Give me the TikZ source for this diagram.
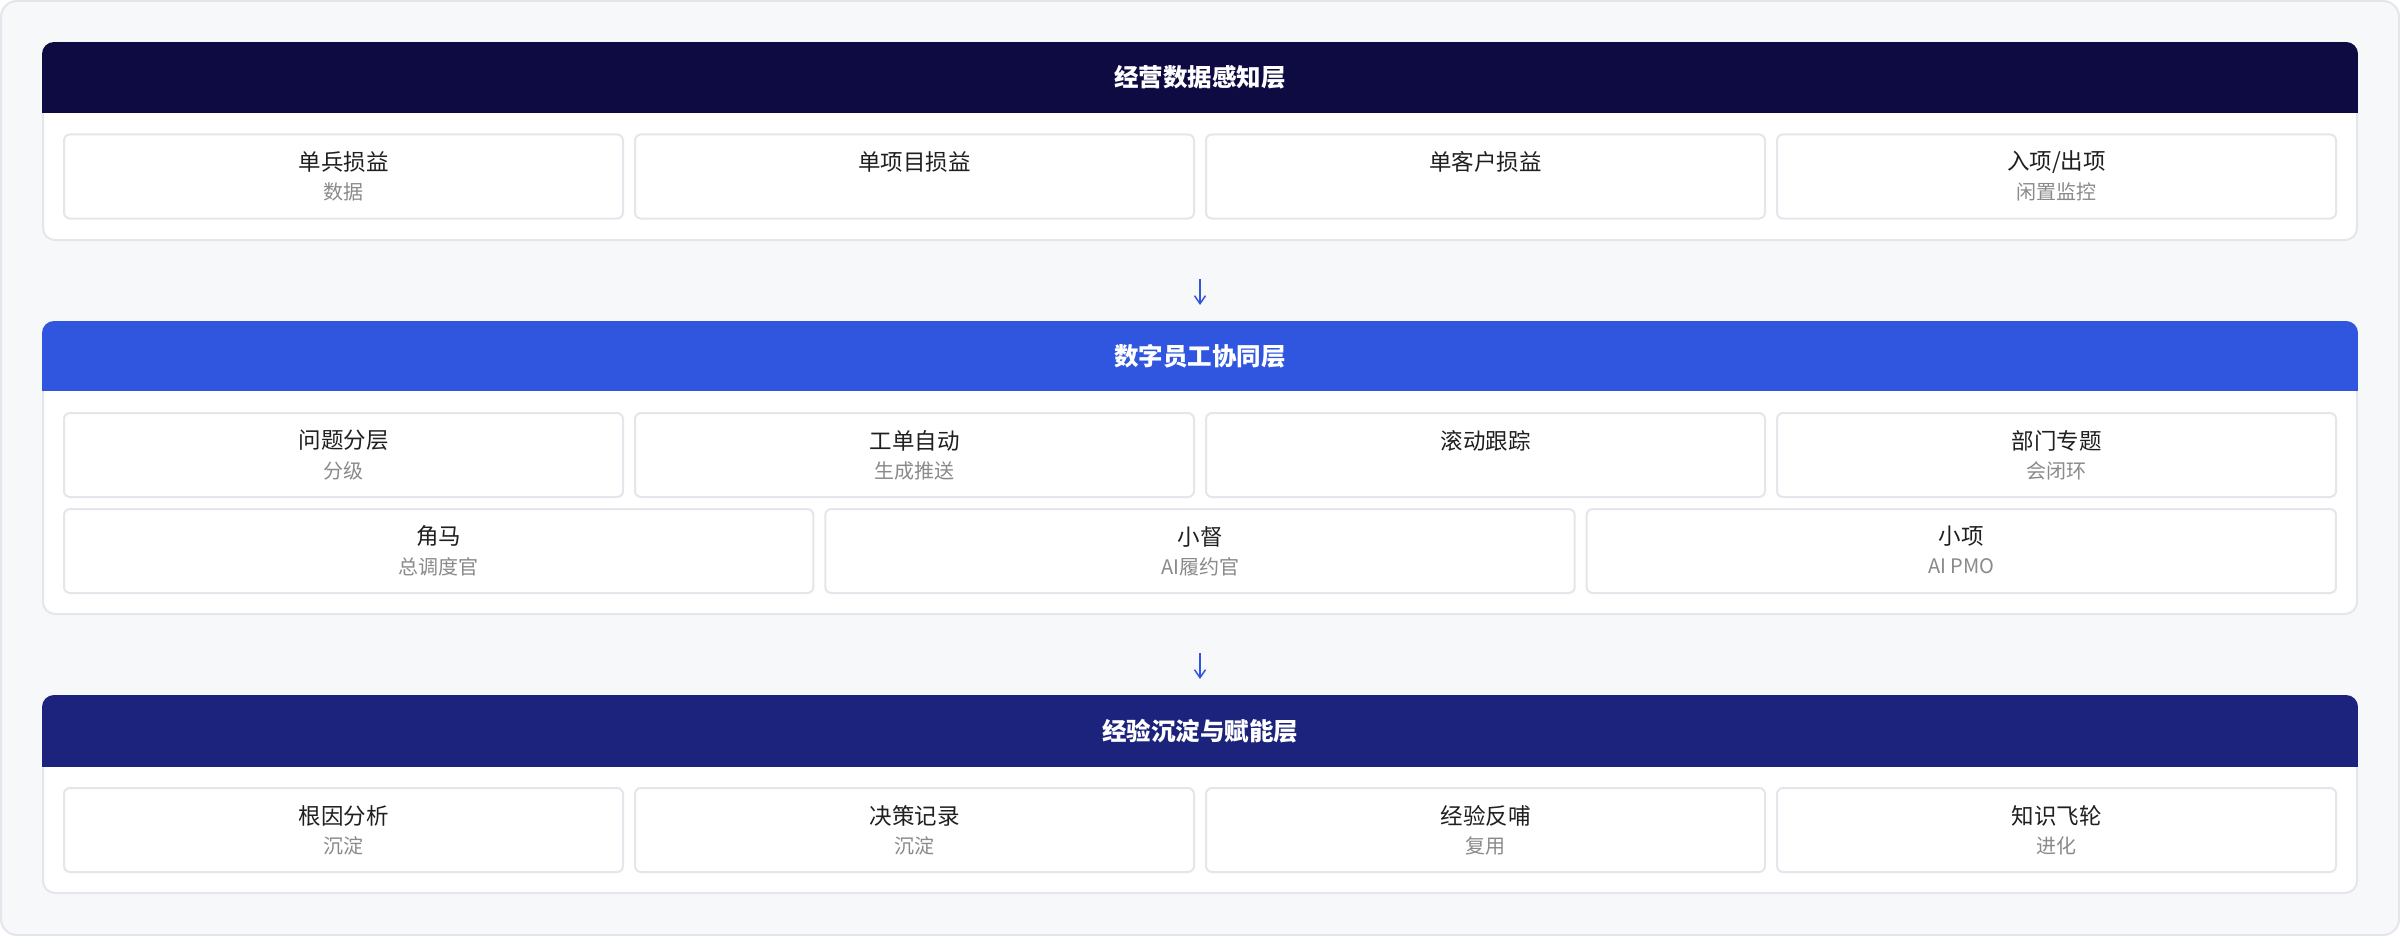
\documentclass[tikz,border=0pt]{standalone}
\usepackage{fontspec}
\setmainfont{Noto Sans CJK SC}
\usetikzlibrary{arrows.meta}

\definecolor{pagebg}{HTML}{F7F8FA}
\definecolor{edge}{HTML}{E5E6EB}
\definecolor{hdA}{HTML}{0E0B43}
\definecolor{hdB}{HTML}{3056E0}
\definecolor{hdC}{HTML}{1B237C}
\definecolor{ink}{HTML}{1F1F1F}
\definecolor{mute}{HTML}{8A8A8A}

\tikzset{
  layer/.style={draw=edge, line width=2pt, fill=white, rounded corners=12pt, minimum width=2314pt, inner sep=0pt},
  card/.style={draw=edge, line width=2pt, fill=white, rounded corners=6pt, minimum height=84pt, inner sep=0pt},
  ttl/.style={text=ink, font=\fontsize{22.5}{26}\selectfont, inner sep=0pt},
  sub/.style={text=mute, font=\fontsize{20}{24}\selectfont, inner sep=0pt},
  hdtxt/.style={text=white, font=\fontsize{24.5}{28}\selectfont\bfseries, inner sep=0pt},
  flow/.style={draw=hdB, line width=1.5pt, -{Straight Barb[length=8pt,width=11pt]}, shorten <=38pt, shorten >=16pt}
}

\begin{document}
\begin{tikzpicture}[x=1pt, y=-1pt]
            \useasboundingbox (0,0) rectangle (2400,936);
            \draw[fill=pagebg, draw=edge, line width=2pt, rounded corners=16pt] (1,1) rectangle (2399,935);

            % layers
            \node[layer, minimum height=197pt] (lay1) at (1200,141.5) {};
            \node[layer, minimum height=292pt] (lay2) at (1200,468) {};
            \node[layer, minimum height=197pt] (lay3) at (1200,794.5) {};

            \begin{scope}
              \clip[rounded corners=12pt] (lay1.north west) rectangle (lay1.south east);
              \fill[hdA] (lay1.north west) rectangle ([yshift=-71pt]lay1.north east);
            \end{scope}
            \begin{scope}
              \clip[rounded corners=12pt] (lay2.north west) rectangle (lay2.south east);
              \fill[hdB] (lay2.north west) rectangle ([yshift=-70pt]lay2.north east);
            \end{scope}
            \begin{scope}
              \clip[rounded corners=12pt] (lay3.north west) rectangle (lay3.south east);
              \fill[hdC] (lay3.north west) rectangle ([yshift=-72pt]lay3.north east);
            \end{scope}
            \node[hdtxt] (hd1) at ([yshift=-35.5pt]lay1.north) {经营数据感知层};
            \node[hdtxt] (hd2) at ([yshift=-35pt]lay2.north) {数字员工协同层};
            \node[hdtxt] (hd3) at ([yshift=-36pt]lay3.north) {经验沉淀与赋能层};

            % layer 1
            \node[card, minimum width=559pt] (a1) at (343.5,176.5) {};
            \node[card, minimum width=559pt] (a2) at (914.5,176.5) {};
            \node[card, minimum width=559pt] (a3) at (1485.5,176.5) {};
            \node[card, minimum width=559pt] (a4) at (2056.5,176.5) {};
            \node[ttl] (a1t) at ([yshift=-28.5pt]a1.north) {单兵损益};
            \node[sub] (a1s) at ([yshift=-58.5pt]a1.north) {数据};
            \node[ttl] (a2t) at ([yshift=-28.5pt]a2.north) {单项目损益};
            \node[ttl] (a3t) at ([yshift=-28.5pt]a3.north) {单客户损益};
            \node[ttl] (a4t) at ([yshift=-28.5pt]a4.north) {入项/出项};
            \node[sub] (a4s) at ([yshift=-58.5pt]a4.north) {闲置监控};

            % layer 2
            \node[card, minimum width=559pt] (b1) at (343.5,455) {};
            \node[card, minimum width=559pt] (b2) at (914.5,455) {};
            \node[card, minimum width=559pt] (b3) at (1485.5,455) {};
            \node[card, minimum width=559pt] (b4) at (2056.5,455) {};
            \node[ttl] (b1t) at ([yshift=-28.5pt]b1.north) {问题分层};
            \node[sub] (b1s) at ([yshift=-58.5pt]b1.north) {分级};
            \node[ttl] (b2t) at ([yshift=-28.5pt]b2.north) {工单自动};
            \node[sub] (b2s) at ([yshift=-58.5pt]b2.north) {生成推送};
            \node[ttl] (b3t) at ([yshift=-28.5pt]b3.north) {滚动跟踪};
            \node[ttl] (b4t) at ([yshift=-28.5pt]b4.north) {部门专题};
            \node[sub] (b4s) at ([yshift=-58.5pt]b4.north) {会闭环};
            \node[card, minimum width=749.3pt] (r1) at (438.7,551) {};
            \node[card, minimum width=749.3pt] (r2) at (1200,551) {};
            \node[card, minimum width=749.3pt] (r3) at (1961.3,551) {};
            \node[ttl] (r1t) at ([yshift=-28.5pt]r1.north) {角马};
            \node[sub] (r1s) at ([yshift=-58.5pt]r1.north) {总调度官};
            \node[ttl] (r2t) at ([yshift=-28.5pt]r2.north) {小督};
            \node[sub] (r2s) at ([yshift=-58.5pt]r2.north) {AI履约官};
            \node[ttl] (r3t) at ([yshift=-28.5pt]r3.north) {小项};
            \node[sub] (r3s) at ([yshift=-58.5pt]r3.north) {AI PMO};

            % layer 3
            \node[card, minimum width=559pt] (c1) at (343.5,830) {};
            \node[card, minimum width=559pt] (c2) at (914.5,830) {};
            \node[card, minimum width=559pt] (c3) at (1485.5,830) {};
            \node[card, minimum width=559pt] (c4) at (2056.5,830) {};
            \node[ttl] (c1t) at ([yshift=-28.5pt]c1.north) {根因分析};
            \node[sub] (c1s) at ([yshift=-58.5pt]c1.north) {沉淀};
            \node[ttl] (c2t) at ([yshift=-28.5pt]c2.north) {决策记录};
            \node[sub] (c2s) at ([yshift=-58.5pt]c2.north) {沉淀};
            \node[ttl] (c3t) at ([yshift=-28.5pt]c3.north) {经验反哺};
            \node[sub] (c3s) at ([yshift=-58.5pt]c3.north) {复用};
            \node[ttl] (c4t) at ([yshift=-28.5pt]c4.north) {知识飞轮};
            \node[sub] (c4s) at ([yshift=-58.5pt]c4.north) {进化};

            \draw[flow] (lay1) -- (lay2);
            \draw[flow] (lay2) -- (lay3);
\end{tikzpicture}
\end{document}
